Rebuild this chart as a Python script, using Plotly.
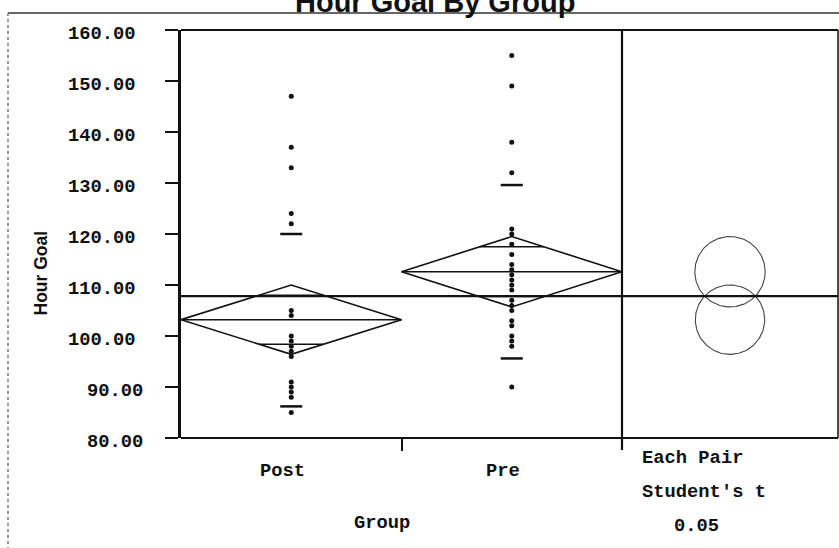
import numpy as np
import plotly.graph_objects as go

# ---------------- data ----------------
chart_title = "Hour Goal By Group"
y_title = "Hour Goal"
x_title = "Group"
groups = ["Post", "Pre"]
post_values = [147, 137, 133, 124, 122, 105, 104, 100, 99, 98, 97, 96, 91, 90, 89, 88, 85]
pre_values = [155, 149, 138, 132, 121, 120, 118, 116, 114, 113, 112, 111, 110, 109,
              107, 106, 105, 103, 102, 100, 99, 98, 90]
group_means = [103.2, 112.6]
ci_half = [6.8, 6.9]
quantile_low = [86.2, 95.6]
quantile_high = [120.0, 129.6]
grand_mean = 107.8
y_ticks = [80, 90, 100, 110, 120, 130, 140, 150, 160]
y_tick_labels = ["80.00", "90.00", "100.00", "110.00", "120.00", "130.00", "140.00", "150.00", "160.00"]
compare_labels = ["Each Pair", "Student's t", "0.05"]

# ---------------- layout geometry (pixels) ----------------
W, H = 839, 548
X_LEFT, X_SEP, X_RIGHT = 181, 622, 838
Y_TOP, Y_BOT = 30, 438
YMIN, YMAX = 80, 160
px_per_unit = (Y_BOT - Y_TOP) / (YMAX - YMIN)


def px(xp):
    return xp / W


def py(yp):
    return 1 - yp / H


MONO = "Liberation Mono, Courier New, monospace"
SANS = "Liberation Sans, Arial, sans-serif"
BLACK = "#111111"


def mono(t):
    return "<b>" + t + "</b>"


fig = go.Figure()

# points
for i, vals in enumerate([post_values, pre_values]):
    fig.add_trace(go.Scatter(
        x=[i] * len(vals), y=vals, mode="markers",
        marker=dict(color=BLACK, size=5, symbol="circle"),
        showlegend=False, hoverinfo="y"))

# diamonds, mean lines, overlap marks, quantile marks
for i, (m, h) in enumerate(zip(group_means, ci_half)):
    fig.add_trace(go.Scatter(
        x=[i - 0.5, i, i + 0.5, i, i - 0.5], y=[m, m + h, m, m - h, m],
        mode="lines", line=dict(color=BLACK, width=1.6), showlegend=False, hoverinfo="skip"))
    fig.add_trace(go.Scatter(
        x=[i - 0.5, i + 0.5], y=[m, m], mode="lines",
        line=dict(color=BLACK, width=1.5), showlegend=False, hoverinfo="skip"))
    off = h / np.sqrt(2)
    half_w = 0.5 * (1 - off / h)
    for s in (1, -1):
        fig.add_trace(go.Scatter(
            x=[i - half_w, i + half_w], y=[m + s * off, m + s * off], mode="lines",
            line=dict(color=BLACK, width=1.5), showlegend=False, hoverinfo="skip"))
    for q in (quantile_low[i], quantile_high[i]):
        fig.add_trace(go.Scatter(
            x=[i - 0.05, i + 0.05], y=[q, q], mode="lines",
            line=dict(color=BLACK, width=2.5), showlegend=False, hoverinfo="skip"))

# comparison circles (right panel, equal scale)
x2_range = [0, (X_RIGHT - X_SEP) / px_per_unit]
cx = (x2_range[0] + x2_range[1]) / 2
theta = np.linspace(0, 2 * np.pi, 200)
for m, h in zip(group_means, ci_half):
    fig.add_trace(go.Scatter(
        x=cx + h * np.cos(theta), y=m + h * np.sin(theta), mode="lines",
        line=dict(color="#444444", width=1.1), xaxis="x2", yaxis="y",
        showlegend=False, hoverinfo="skip"))

shapes = []
# frame lines
shapes.append(dict(type="line", xref="paper", yref="paper", x0=px(X_LEFT), x1=px(X_RIGHT),
                   y0=py(Y_TOP), y1=py(Y_TOP), line=dict(color=BLACK, width=2)))
shapes.append(dict(type="line", xref="paper", yref="paper", x0=px(X_LEFT), x1=px(X_RIGHT),
                   y0=py(Y_BOT), y1=py(Y_BOT), line=dict(color=BLACK, width=2.2)))
shapes.append(dict(type="line", xref="paper", yref="paper", x0=px(X_SEP), x1=px(X_SEP),
                   y0=py(Y_TOP), y1=py(450), line=dict(color=BLACK, width=2.2)))
shapes.append(dict(type="line", xref="paper", yref="paper", x0=px(X_RIGHT), x1=px(X_RIGHT),
                   y0=py(Y_TOP), y1=py(Y_BOT), line=dict(color=BLACK, width=1.5)))
# grand mean line
shapes.append(dict(type="line", xref="paper", yref="y", x0=px(X_LEFT), x1=px(X_RIGHT),
                   y0=grand_mean, y1=grand_mean, line=dict(color=BLACK, width=2.2)))
# outer report frame
shapes.append(dict(type="line", xref="paper", yref="paper", x0=px(8), x1=1.0,
                   y0=py(13), y1=py(13), line=dict(color="#333333", width=1.5)))
shapes.append(dict(type="line", xref="paper", yref="paper", x0=px(8), x1=px(8),
                   y0=py(13), y1=0, line=dict(color="#777777", width=1.5, dash="dot")))

annotations = []
# title (clipped at top like reference)
annotations.append(dict(text="<b>" + chart_title + "</b>", xref="paper", yref="paper",
                        x=px(435), y=py(2), xanchor="center", yanchor="middle", showarrow=False,
                        font=dict(family=SANS, size=29, color=BLACK)))
# y tick labels
for v, lab in zip(y_ticks, y_tick_labels):
    right = 138 if len(lab) > 5 else 145
    annotations.append(dict(text=mono(lab), xref="paper", yref="y", x=px(right), y=v,
                            xanchor="right", yanchor="middle", yshift=-4, showarrow=False,
                            font=dict(family=MONO, size=18.8, color=BLACK)))
# y title
annotations.append(dict(text="<b>" + y_title + "</b>", xref="paper", yref="paper",
                        x=px(40.5), y=py(273), xanchor="center", yanchor="middle",
                        textangle=-90, showarrow=False,
                        font=dict(family=SANS, size=17.5, color=BLACK)))
# category labels
for i, g in enumerate(groups):
    annotations.append(dict(text=mono(g), xref="x", yref="paper", x=i, y=py(471), xshift=-9,
                            xanchor="center", yanchor="middle", showarrow=False,
                            font=dict(family=MONO, size=18.8, color=BLACK)))
annotations.append(dict(text=mono(x_title), xref="paper", yref="paper", x=px(381.5), y=py(523),
                        xanchor="center", yanchor="middle", showarrow=False,
                        font=dict(family=MONO, size=18.8, color=BLACK)))
# comparison labels
for lab, xl, yc in zip(compare_labels, [640, 640, 672], [458, 492, 526]):
    annotations.append(dict(text=mono(lab), xref="paper", yref="paper", x=px(xl), y=py(yc),
                            xanchor="left", yanchor="middle", showarrow=False,
                            font=dict(family=MONO, size=18.8, color=BLACK)))

fig.update_layout(
    width=W, height=H, margin=dict(l=0, r=0, t=0, b=0),
    paper_bgcolor="white", plot_bgcolor="white", showlegend=False,
    xaxis=dict(domain=[px(X_LEFT), px(X_SEP)], range=[-0.5, 1.5], showgrid=False,
               zeroline=False, showline=False, showticklabels=False,
               tickvals=[0.5], ticks="outside", ticklen=12, tickwidth=2.2, tickcolor=BLACK),
    xaxis2=dict(domain=[px(X_SEP), px(X_RIGHT)], range=x2_range, anchor="y", visible=False),
    yaxis=dict(domain=[py(Y_BOT), py(Y_TOP)], range=[YMIN, YMAX], tickvals=y_ticks,
               showticklabels=False, ticks="outside", ticklen=13, tickwidth=2.2,
               tickcolor=BLACK, showline=True, linewidth=2.5, linecolor=BLACK,
               showgrid=False, zeroline=False),
    shapes=shapes, annotations=annotations,
)

fig.write_html("out.html", config={"displayModeBar": False},
               post_script="document.body.style.margin='0';document.body.style.overflow='hidden';")
